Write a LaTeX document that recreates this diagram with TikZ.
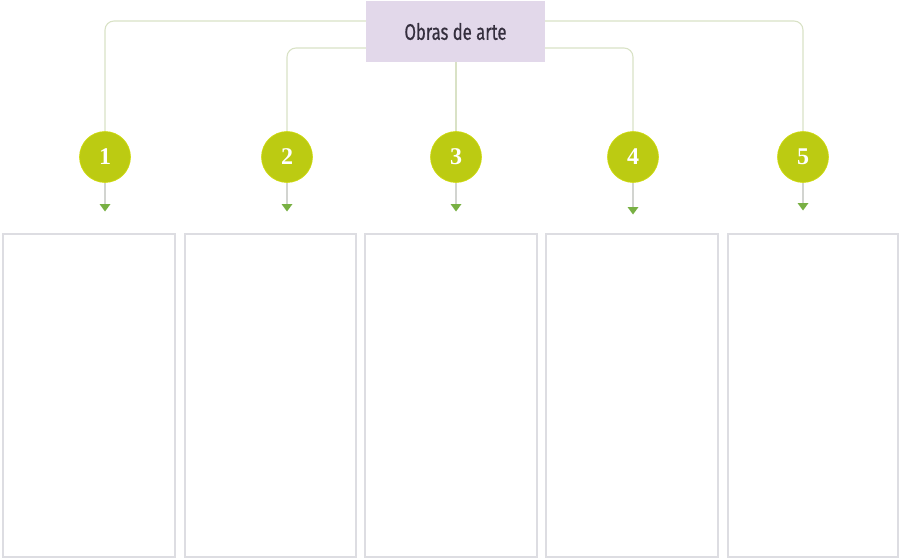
\documentclass[tikz,border=0pt]{standalone}
\usepackage{fontspec}
\newfontfamily\titlefont[FakeStretch=0.74,FakeBold=0.6]{Fira Sans}
\newfontfamily\numfont{Liberation Serif}
\definecolor{titlefill}{HTML}{E2D8EA}
\definecolor{titletext}{HTML}{352F3E}
\definecolor{linkline}{HTML}{D9E2C6}
\definecolor{stemline}{HTML}{D2D4D0}
\definecolor{circfill}{HTML}{BCCB12}
\definecolor{arrowgreen}{HTML}{78B043}
\definecolor{boxline}{HTML}{DDDDE2}
\begin{document}
\begin{tikzpicture}[x=1pt,y=-1pt,
  titlebox/.style={fill=titlefill,draw=none,minimum width=179pt,minimum height=61pt,inner sep=0pt,
    font=\titlefont\fontsize{22.5}{26}\selectfont,text=titletext},
  numcirc/.style={circle,fill=circfill,draw=circfill!70!yellow,line width=0.6pt,minimum size=51pt,inner sep=0pt,
    font=\numfont\bfseries\fontsize{24}{26}\selectfont,text=white},
  link/.style={draw=linkline,line width=1.1pt,rounded corners=9pt},
  stem/.style={draw=stemline,line width=1.1pt},
  tip/.style={fill=arrowgreen,draw=none},
  panel/.style={draw=boxline,line width=1.6pt,fill=white}]
\useasboundingbox (0,0) rectangle (900,559);
% panels
\foreach \xa/\xb in {3/175,185/356,365/537,546/718,728/898}{
  \draw[panel] (\xa,234) rectangle (\xb,557);
}
% circles
\node[numcirc] (c1) at (105,157) {1};
\node[numcirc] (c2) at (287,157) {2};
\node[numcirc] (c3) at (456,157) {3};
\node[numcirc] (c4) at (633,157) {4};
\node[numcirc] (c5) at (803,157) {5};
% title
\node[titlebox] (t) at (455.5,31.5) {Obras de arte};
% links
\draw[link] (t.west |- 0,21) -| (c1.north);
\draw[link] (t.west |- 0,48) -| (c2.north);
\draw[link] (t.east |- 0,48) -| (c4.north);
\draw[link] (t.east |- 0,21) -| (c5.north);
\draw[link] (t.south -| c3.north) -- (c3.north);
% stems and arrowheads
\foreach \c/\y in {c1/204,c2/204,c3/204,c4/207,c5/203}{
  \draw[stem] (\c.south) -- (\c.center |- 0,\y);
  \fill[tip] ([xshift=-5.5pt]\c.center |- 0,\y) -- ([xshift=5.5pt]\c.center |- 0,\y) -- ([yshift=-7.5pt]\c.center |- 0,\y) -- cycle;
}
\end{tikzpicture}
\end{document}
